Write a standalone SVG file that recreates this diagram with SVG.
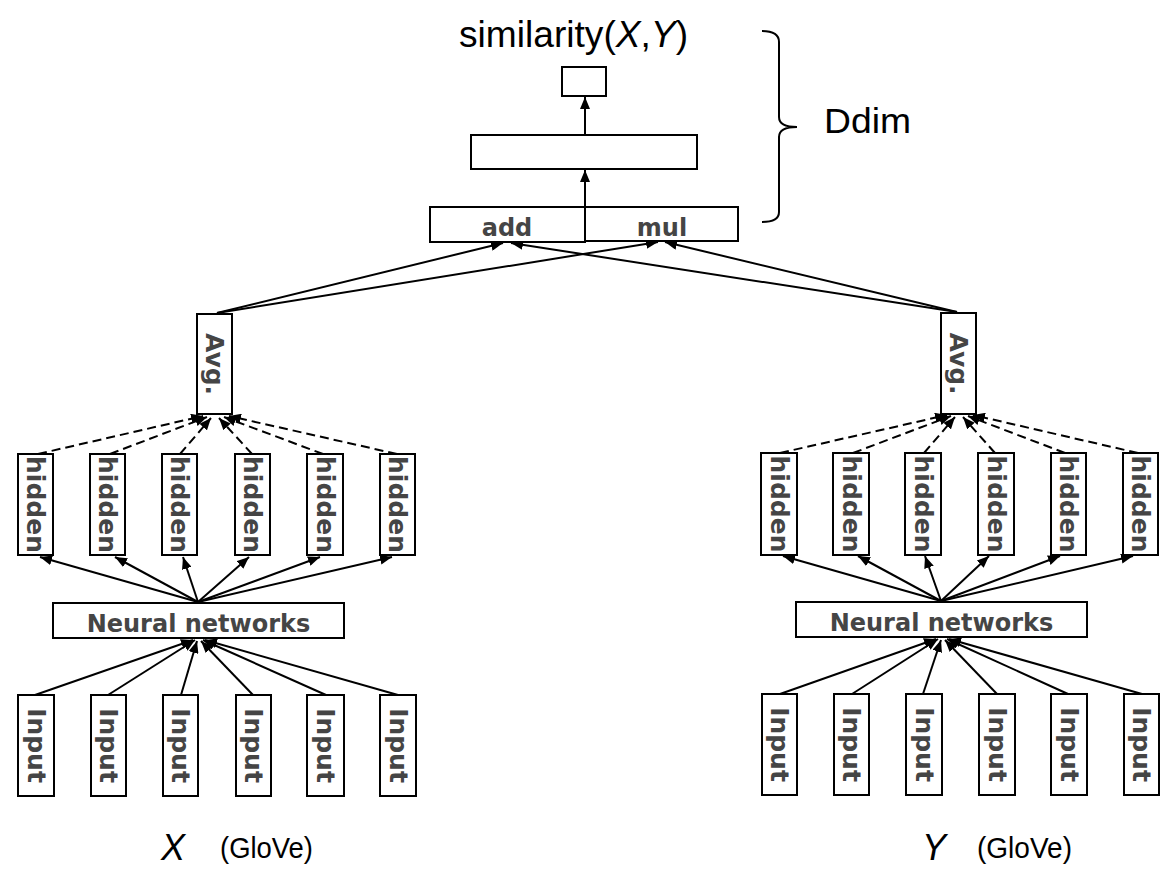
<svg xmlns="http://www.w3.org/2000/svg" width="1169" height="892" viewBox="0 0 1169 892">
<style>
.box{fill:#fff;stroke:#000;stroke-width:2}
.lbl{font-family:"DejaVu Sans",Verdana,sans-serif;font-weight:bold;font-size:24px;fill:#454545}
.rot{text-anchor:middle;dominant-baseline:central;font-size:25px}
.ttl{font-family:"Liberation Sans",Arial,sans-serif;fill:#000}
.ln{stroke:#000;stroke-width:2;fill:none;marker-end:url(#ah)}
.dash{stroke-dasharray:9 5}
</style>
<defs>
<marker id="ah" markerUnits="userSpaceOnUse" markerWidth="13" markerHeight="10" refX="12" refY="5" orient="auto">
<path d="M0,0 L12,5 L0,10 z" fill="#000"/>
</marker>
</defs>
<rect width="1169" height="892" fill="#fff"/>

<g id="connectors">
<line class="ln" x1="585" y1="135" x2="585" y2="97"/>
<line class="ln" x1="585" y1="242" x2="585" y2="170"/>
<line class="ln" x1="217" y1="313" x2="503" y2="243"/>
<line class="ln" x1="217" y1="313" x2="658" y2="242"/>
<line class="ln" x1="957" y1="312" x2="511" y2="243"/>
<line class="ln" x1="957" y1="312" x2="665" y2="242"/>
<line class="ln dash" x1="38" y1="454" x2="203" y2="416"/>
<line class="ln dash" x1="110" y1="454" x2="207" y2="417"/>
<line class="ln dash" x1="180" y1="454" x2="211" y2="418"/>
<line class="ln dash" x1="252" y1="454" x2="219" y2="418"/>
<line class="ln dash" x1="323" y1="454" x2="224" y2="417"/>
<line class="ln dash" x1="397" y1="454" x2="229" y2="416"/>
<line class="ln dash" x1="780" y1="453" x2="947" y2="415"/>
<line class="ln dash" x1="853" y1="453" x2="951" y2="416"/>
<line class="ln dash" x1="924" y1="453" x2="955" y2="417"/>
<line class="ln dash" x1="995" y1="453" x2="963" y2="417"/>
<line class="ln dash" x1="1065" y1="453" x2="968" y2="416"/>
<line class="ln dash" x1="1138" y1="453" x2="973" y2="415"/>
<line class="ln" x1="198" y1="602" x2="40" y2="557"/>
<line class="ln" x1="198" y1="602" x2="115" y2="557"/>
<line class="ln" x1="198" y1="602" x2="183" y2="557"/>
<line class="ln" x1="198" y1="602" x2="249" y2="557"/>
<line class="ln" x1="198" y1="602" x2="320" y2="557"/>
<line class="ln" x1="198" y1="602" x2="392" y2="557"/>
<line class="ln" x1="941" y1="601" x2="783" y2="556"/>
<line class="ln" x1="941" y1="601" x2="858" y2="556"/>
<line class="ln" x1="941" y1="601" x2="925" y2="556"/>
<line class="ln" x1="941" y1="601" x2="989" y2="556"/>
<line class="ln" x1="941" y1="601" x2="1060" y2="556"/>
<line class="ln" x1="941" y1="601" x2="1133" y2="556"/>
<line class="ln" x1="35" y1="695" x2="193" y2="640"/>
<line class="ln" x1="108" y1="695" x2="195" y2="640"/>
<line class="ln" x1="181" y1="695" x2="197" y2="641"/>
<line class="ln" x1="253" y1="695" x2="201" y2="641"/>
<line class="ln" x1="326" y1="695" x2="203" y2="640"/>
<line class="ln" x1="398" y1="695" x2="205" y2="640"/>
<line class="ln" x1="780" y1="694" x2="936" y2="639"/>
<line class="ln" x1="852" y1="694" x2="938" y2="639"/>
<line class="ln" x1="923" y1="694" x2="941" y2="640"/>
<line class="ln" x1="997" y1="694" x2="945" y2="640"/>
<line class="ln" x1="1068" y1="694" x2="947" y2="639"/>
<line class="ln" x1="1142" y1="694" x2="949" y2="639"/>
</g>

<g id="title"><text class="ttl" x="459" y="47" font-size="37" textLength="229" lengthAdjust="spacingAndGlyphs">similarity(<tspan font-style="italic">X</tspan>,<tspan font-style="italic">Y</tspan>)</text></g>
<g id="out"><rect class="box" x="562" y="67" width="44" height="29"/></g>
<g id="dense"><rect class="box" x="471" y="135" width="226" height="34"/></g>
<g id="add"><rect class="box" x="430" y="207" width="155" height="35"/><text class="lbl" x="507" y="236" text-anchor="middle">add</text></g>
<g id="mul"><rect class="box" x="585" y="207" width="153" height="34"/><text class="lbl" x="662" y="236" text-anchor="middle">mul</text></g>
<g id="brace"><path d="M762,31 Q779,31 779,42 L779,117 Q779,127 797,127 Q779,127 779,137 L779,212 Q779,222 762,222" fill="none" stroke="#000" stroke-width="2"/><text class="ttl" x="824" y="133" font-size="35" textLength="87" lengthAdjust="spacingAndGlyphs">Ddim</text></g>

<g id="avgL"><rect class="box" x="197" y="314" width="35" height="100"/><text class="lbl rot" x="214.5" y="364" transform="rotate(90 214.5 364)">Avg.</text></g>
<g id="avgR"><rect class="box" x="941" y="313" width="35" height="101"/><text class="lbl rot" x="958.5" y="363.5" transform="rotate(90 958.5 363.5)">Avg.</text></g>

<g id="hiddenL1"><rect class="box" x="18" y="454" width="35" height="101"/><text class="lbl rot" x="35.5" y="504.5" transform="rotate(90 35.5 504.5)">hidden</text></g>
<g id="hiddenL2"><rect class="box" x="90" y="454" width="35" height="101"/><text class="lbl rot" x="107.5" y="504.5" transform="rotate(90 107.5 504.5)">hidden</text></g>
<g id="hiddenL3"><rect class="box" x="162" y="454" width="35" height="101"/><text class="lbl rot" x="179.5" y="504.5" transform="rotate(90 179.5 504.5)">hidden</text></g>
<g id="hiddenL4"><rect class="box" x="235" y="454" width="35" height="101"/><text class="lbl rot" x="252.5" y="504.5" transform="rotate(90 252.5 504.5)">hidden</text></g>
<g id="hiddenL5"><rect class="box" x="307" y="454" width="36" height="101"/><text class="lbl rot" x="325" y="504.5" transform="rotate(90 325 504.5)">hidden</text></g>
<g id="hiddenL6"><rect class="box" x="380" y="454" width="35" height="101"/><text class="lbl rot" x="397.5" y="504.5" transform="rotate(90 397.5 504.5)">hidden</text></g>

<g id="hiddenR1"><rect class="box" x="761" y="453" width="36" height="102"/><text class="lbl rot" x="779" y="504" transform="rotate(90 779 504)">hidden</text></g>
<g id="hiddenR2"><rect class="box" x="833" y="453" width="36" height="102"/><text class="lbl rot" x="851" y="504" transform="rotate(90 851 504)">hidden</text></g>
<g id="hiddenR3"><rect class="box" x="905" y="453" width="36" height="102"/><text class="lbl rot" x="923" y="504" transform="rotate(90 923 504)">hidden</text></g>
<g id="hiddenR4"><rect class="box" x="978" y="453" width="36" height="102"/><text class="lbl rot" x="996" y="504" transform="rotate(90 996 504)">hidden</text></g>
<g id="hiddenR5"><rect class="box" x="1051" y="453" width="35" height="102"/><text class="lbl rot" x="1068.5" y="504" transform="rotate(90 1068.5 504)">hidden</text></g>
<g id="hiddenR6"><rect class="box" x="1123" y="453" width="35" height="102"/><text class="lbl rot" x="1140.5" y="504" transform="rotate(90 1140.5 504)">hidden</text></g>

<g id="nnL"><rect class="box" x="53" y="603" width="291" height="35"/><text class="lbl" x="198.5" y="632" text-anchor="middle">Neural networks</text></g>
<g id="nnR"><rect class="box" x="796" y="602" width="291" height="35"/><text class="lbl" x="941.5" y="631" text-anchor="middle">Neural networks</text></g>

<g id="inputL1"><rect class="box" x="18" y="695" width="36" height="101"/><text class="lbl rot" x="36" y="745.5" transform="rotate(90 36 745.5)">Input</text></g>
<g id="inputL2"><rect class="box" x="91" y="695" width="35" height="101"/><text class="lbl rot" x="108.5" y="745.5" transform="rotate(90 108.5 745.5)">Input</text></g>
<g id="inputL3"><rect class="box" x="163" y="695" width="35" height="101"/><text class="lbl rot" x="180.5" y="745.5" transform="rotate(90 180.5 745.5)">Input</text></g>
<g id="inputL4"><rect class="box" x="236" y="695" width="35" height="101"/><text class="lbl rot" x="253.5" y="745.5" transform="rotate(90 253.5 745.5)">Input</text></g>
<g id="inputL5"><rect class="box" x="307" y="695" width="37" height="101"/><text class="lbl rot" x="325.5" y="745.5" transform="rotate(90 325.5 745.5)">Input</text></g>
<g id="inputL6"><rect class="box" x="380" y="695" width="36" height="101"/><text class="lbl rot" x="398" y="745.5" transform="rotate(90 398 745.5)">Input</text></g>

<g id="inputR1"><rect class="box" x="762" y="694" width="35" height="101"/><text class="lbl rot" x="779.5" y="744.5" transform="rotate(90 779.5 744.5)">Input</text></g>
<g id="inputR2"><rect class="box" x="834" y="694" width="35" height="101"/><text class="lbl rot" x="851.5" y="744.5" transform="rotate(90 851.5 744.5)">Input</text></g>
<g id="inputR3"><rect class="box" x="906" y="694" width="36" height="101"/><text class="lbl rot" x="924" y="744.5" transform="rotate(90 924 744.5)">Input</text></g>
<g id="inputR4"><rect class="box" x="979" y="694" width="36" height="101"/><text class="lbl rot" x="997" y="744.5" transform="rotate(90 997 744.5)">Input</text></g>
<g id="inputR5"><rect class="box" x="1051" y="694" width="36" height="101"/><text class="lbl rot" x="1069" y="744.5" transform="rotate(90 1069 744.5)">Input</text></g>
<g id="inputR6"><rect class="box" x="1124" y="694" width="35" height="101"/><text class="lbl rot" x="1141.5" y="744.5" transform="rotate(90 1141.5 744.5)">Input</text></g>

<g id="labelX"><text class="ttl" x="161" y="860" font-size="36" font-style="italic">X</text><text class="ttl" x="220" y="858" font-size="30" textLength="93" lengthAdjust="spacingAndGlyphs">(GloVe)</text></g>
<g id="labelY"><text class="ttl" x="922" y="860" font-size="36" font-style="italic">Y</text><text class="ttl" x="977" y="858" font-size="30" textLength="95" lengthAdjust="spacingAndGlyphs">(GloVe)</text></g>
</svg>
